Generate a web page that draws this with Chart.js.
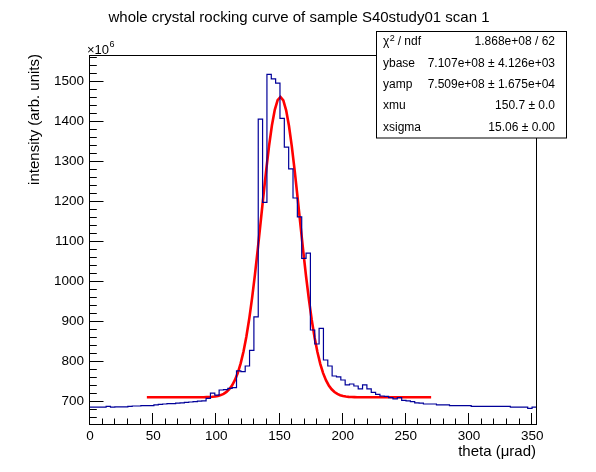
<!DOCTYPE html>
<html>
<head>
<meta charset="utf-8">
<title>rocking curve</title>
<script src="https://cdn.jsdelivr.net/npm/chart.js@4"></script>
<style>
  body { margin: 0; background: #fff; }
  canvas { display: block; }
</style>
</head>
<body>
<canvas id="rockingChart" width="596" height="472"></canvas>
<script>
// histogram binning in theta (urad); contents are in units of 1e6
var binStart = -1;
var binWidth = 3.44;
var binCounts = [
    686, 686, 686, 686, 688, 686, 687, 687, 687, 688,
    689, 689, 690, 690, 690, 692, 693, 694, 695, 695,
    696, 697, 698, 699, 700, 701, 702, 708, 721, 716,
    729, 730, 733, 735, 777, 775, 789, 828, 912, 1406,
    1198, 1518, 1507, 1496, 1408, 1336, 1282, 1209, 1162, 1058,
    1071, 879, 844, 883, 804, 789, 764, 762, 754, 742,
    744, 739, 732, 742, 732, 723, 718, 714, 713, 710,
    707, 710, 703, 702, 700, 697, 696, 694, 694, 694,
    692, 692, 692, 690, 690, 690, 690, 690, 688, 688,
    688, 688, 688, 688, 688, 688, 688, 686, 686, 686,
    686, 683, 686
];

// gaussian + constant fit result: ybase, yamp (x1e6), xmu, xsigma
var fitParams = [710.7, 750.9, 150.7, 15.06];
var fitRange = [45, 270];
var fitNpx = 100;

var xTicks = [0, 50, 100, 150, 200, 250, 300, 350];
var yTicks = [700, 800, 900, 1000, 1100, 1200, 1300, 1400, 1500];

var statNames = ['χ', 'ybase', 'yamp', 'xmu', 'xsigma'];
var statValues = ['1.868e+08 / 62', '7.107e+08 ± 4.126e+03', '7.509e+08 ± 1.675e+04', '150.7 ± 0.0', '15.06 ± 0.00'];

var FONT = '"Liberation Sans", Arial, Helvetica, sans-serif';

function histPoints() {
    var pts = [];
    for (var i = 0; i < binCounts.length; i++) {
        pts.push({x: binStart + i * binWidth, y: binCounts[i]});
    }
    pts.push({x: binStart + binCounts.length * binWidth, y: binCounts[binCounts.length - 1]});
    return pts;
}

function fitPoints() {
    var pts = [];
    var dx = (fitRange[1] - fitRange[0]) / fitNpx;
    for (var i = 0; i <= fitNpx; i++) {
        var x = fitRange[0] + i * dx;
        var t = (x - fitParams[2]) / fitParams[3];
        pts.push({x: x, y: fitParams[0] + fitParams[1] * Math.exp(-0.5 * t * t)});
    }
    return pts;
}

// ROOT style frame, inward ticks, titles and the stats box
var rootDecor = {
    id: 'rootDecor',
    afterDraw: function(chart) {
        var ctx = chart.ctx;
        var a = chart.chartArea;
        var xs = chart.scales.x;
        var ys = chart.scales.y;
        var v, p;

        ctx.save();
        ctx.strokeStyle = '#000';
        ctx.lineWidth = 1;
        ctx.strokeRect(a.left - 0.5, a.top - 0.5, a.right - a.left + 1, a.bottom - a.top + 1);

        ctx.beginPath();
        for (v = xs.min; v <= xs.max; v += 10) {
            p = Math.round(xs.getPixelForValue(v)) - 0.5;
            var len = (v % 50 === 0) ? 11 : 5.5;
            ctx.moveTo(p, a.bottom);
            ctx.lineTo(p, a.bottom - len);
        }
        for (v = 660; v <= ys.max; v += 20) {
            p = Math.round(ys.getPixelForValue(v)) - 0.5;
            var leny = (v % 100 === 0) ? 13.5 : 6.8;
            ctx.moveTo(a.left, p);
            ctx.lineTo(a.left + leny, p);
        }
        ctx.stroke();

        ctx.fillStyle = '#000';
        ctx.font = '15px ' + FONT;
        ctx.textAlign = 'center';
        ctx.textBaseline = 'middle';
        ctx.fillText('whole crystal rocking curve of sample S40study01 scan 1', 299, 18);

        ctx.textAlign = 'right';
        ctx.fillText('theta (μrad)', a.right, 452);

        ctx.save();
        ctx.translate(35, 54);
        ctx.rotate(-Math.PI / 2);
        ctx.fillText('intensity (arb. units)', 0, 0);
        ctx.restore();

        // exponent of the y axis
        ctx.textAlign = 'left';
        ctx.textBaseline = 'alphabetic';
        ctx.font = '13px ' + FONT;
        ctx.fillText('×10', 87, 54);
        var ew = ctx.measureText('×10').width;
        ctx.font = '9px ' + FONT;
        ctx.fillText('6', 87 + ew + 0.5, 47);

        // stats box
        var bx = 376.5, by = 31.5, bw = 190, bh = 106.5;
        ctx.fillStyle = '#fff';
        ctx.fillRect(bx, by, bw, bh);
        ctx.strokeRect(bx, by, bw, bh);
        ctx.fillStyle = '#000';
        ctx.textBaseline = 'middle';
        for (var i = 0; i < statNames.length; i++) {
            var ry = by + bh / 10 + i * bh / 5;
            ctx.font = '12px ' + FONT;
            ctx.textAlign = 'left';
            ctx.fillText(statNames[i], 383, ry);
            if (i === 0) {
                var w = ctx.measureText('χ').width;
                ctx.font = '9px ' + FONT;
                ctx.fillText('2', 383 + w + 0.5, ry - 4);
                ctx.font = '12px ' + FONT;
                ctx.fillText(' / ndf', 383 + w + 5, ry);
            }
            ctx.textAlign = 'right';
            ctx.fillText(statValues[i], 555, ry);
        }
        ctx.restore();
    }
};

var ctx = document.getElementById('rockingChart').getContext('2d');
var chart = new Chart(ctx, {
    type: 'line',
    data: {
        datasets: [
            {
                label: 'histogram',
                data: histPoints(),
                stepped: true,
                borderColor: '#000099',
                borderWidth: 1.2,
                pointRadius: 0,
                fill: false
            },
            {
                label: 'fit',
                data: fitPoints(),
                borderColor: '#ff0000',
                borderWidth: 2.6,
                pointRadius: 0,
                tension: 0,
                fill: false
            }
        ]
    },
    options: {
        responsive: false,
        animation: false,
        devicePixelRatio: 1,
        layout: { padding: { left: 0, top: 56, right: 60, bottom: 0 } },
        plugins: {
            legend: { display: false },
            title: { display: false },
            tooltip: { enabled: false }
        },
        scales: {
            x: {
                type: 'linear',
                min: 0,
                max: 353,
                grid: { display: false, drawTicks: false },
                border: { display: false },
                afterBuildTicks: function(scale) {
                    scale.ticks = xTicks.map(function(t) { return {value: t}; });
                },
                afterFit: function(scale) { scale.height = 48; },
                ticks: {
                    padding: 4,
                    maxRotation: 0,
                    autoSkip: false,
                    color: '#000',
                    font: { family: FONT, size: 13.5 },
                    callback: function(value) { return String(value); }
                }
            },
            y: {
                type: 'linear',
                min: 644,
                max: 1564,
                grid: { display: false, drawTicks: false },
                border: { display: false },
                afterBuildTicks: function(scale) {
                    scale.ticks = yTicks.map(function(t) { return {value: t}; });
                },
                afterFit: function(scale) { scale.width = 90; },
                ticks: {
                    padding: 6,
                    autoSkip: false,
                    color: '#000',
                    font: { family: FONT, size: 13.5 },
                    callback: function(value) { return String(value); }
                }
            }
        }
    },
    plugins: [rootDecor]
});
</script>
</body>
</html>
